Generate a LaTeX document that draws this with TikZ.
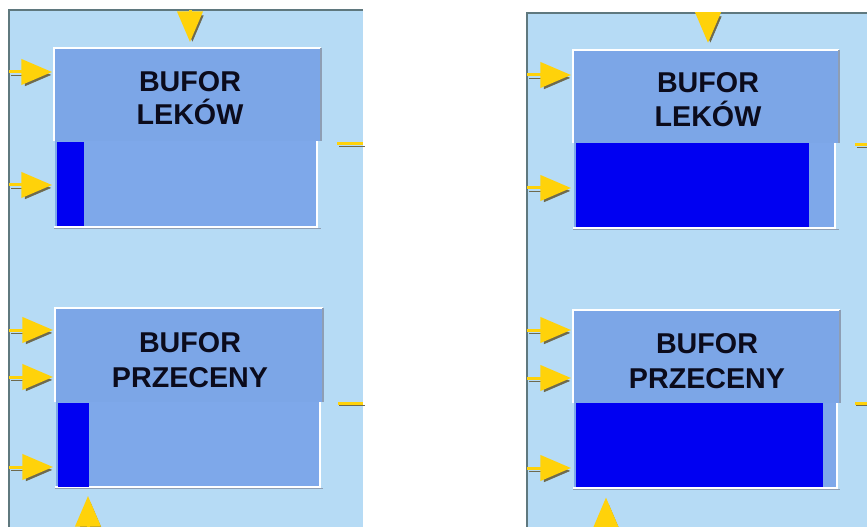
\documentclass[tikz,border=0pt]{standalone}
\usepackage{fontspec}
\setmainfont{Liberation Sans}
\usetikzlibrary{arrows.meta}

\definecolor{panelblue}{HTML}{B6DBF5}
\definecolor{panelrim}{HTML}{5F787E}
\definecolor{hdrblue}{HTML}{7CA6E7}
\definecolor{tankblue}{HTML}{7EA8EA}
\definecolor{levelblue}{HTML}{0000F2}
\definecolor{titleink}{HTML}{0B0B1C}
\definecolor{feedyellow}{HTML}{FFD20A}
\definecolor{feedshadow}{HTML}{6E6A4E}
\definecolor{rimgray}{HTML}{8E9EB4}

\tikzset{
  feed/.style={draw=feedyellow, line width=2.25pt, -{Triangle[length=23pt,width=19pt]},
    preaction={draw=feedshadow, transform canvas={xshift=1.8pt,yshift=-2.2pt}}},
  stub/.style={draw=feedyellow, line width=2.25pt,
    preaction={draw=feedshadow, transform canvas={xshift=1.2pt,yshift=-1.5pt}}},
  title/.style={font=\fontsize{21.5}{24}\selectfont\bfseries, text=titleink, inner sep=0pt, anchor=base},
  bufbox/.style={inner sep=0pt, outer sep=0pt, minimum width=200.25pt, minimum height=135pt},
  edgelight/.style={draw=white, line width=1pt},
  edgedark/.style={draw=rimgray, line width=1pt},
}

\begin{document}
\begin{tikzpicture}[x=0.75pt,y=0.75pt,yscale=-1,xscale=1]
\useasboundingbox (0,0) rectangle (867,527);
\fill[white] (0,0) rectangle (867,527);

%Shape: Rectangle (left panel)
\fill[panelblue] (9,10) rectangle (363,527);
\draw[panelrim, line width=1pt] (9,527) -- (9,10) -- (363,10);
%Shape: Rectangle (right panel)
\fill[panelblue] (527,13) rectangle (867,527);
\draw[panelrim, line width=1pt] (527,527) -- (527,13) -- (867,13);

% ---------- left panel, BUFOR LEKÓW ----------
\node[bufbox] (lekA) at (187.5,138) {};
\fill[hdrblue] (54,48) rectangle (321,141);
\draw[edgelight] (54,141) -- (54,48) -- (321,48);
\draw[edgedark] (321,48) -- (321,141);
\fill[tankblue] (55,141) rectangle (317,227);
\draw[edgelight] (317,141) -- (317,227) -- (54,227);
\draw[edgedark] (54,228.5) -- (321,228.5);
\fill[levelblue] (57,142) rectangle (84,226);
% Text Node
\node[title] (lekA1) at (190,92) {BUFOR};
\node[title] (lekA2) at (190,125) {LEKÓW};

% ---------- left panel, BUFOR PRZECENY ----------
\node[bufbox, minimum width=201pt] (przA) at (189,398) {};
\fill[hdrblue] (55,308) rectangle (323,402);
\draw[edgelight] (55,402) -- (55,308) -- (323,308);
\draw[edgedark] (323,308) -- (323,402);
\fill[tankblue] (56,402) rectangle (320,487);
\draw[edgelight] (320,402) -- (320,487) -- (55,487);
\draw[edgedark] (55,488.5) -- (323,488.5);
\fill[levelblue] (58,403) rectangle (89,487);
% Text Node
\node[title] (przA1) at (190,352) {BUFOR};
\node[title] (przA2) at (190,387) {PRZECENY};

% ---------- right panel, BUFOR LEKÓW ----------
\node[bufbox, minimum width=199.5pt] (lekB) at (706,139.5) {};
\fill[hdrblue] (573,50) rectangle (839,143);
\draw[edgelight] (573,143) -- (573,50) -- (839,50);
\draw[edgedark] (839,50) -- (839,143);
\fill[tankblue] (574,143) rectangle (835,228);
\draw[edgelight] (835,143) -- (835,228) -- (573,228);
\draw[edgedark] (573,229.5) -- (839,229.5);
\fill[levelblue] (576,143) rectangle (809,227);
% Text Node
\node[title] (lekB1) at (708,93) {BUFOR};
\node[title] (lekB2) at (708,127) {LEKÓW};

% ---------- right panel, BUFOR PRZECENY ----------
\node[bufbox, minimum width=200.25pt] (przB) at (706.5,399.5) {};
\fill[hdrblue] (573,310) rectangle (840,403);
\draw[edgelight] (573,403) -- (573,310) -- (840,310);
\draw[edgedark] (840,310) -- (840,403);
\fill[tankblue] (574,403) rectangle (837,488);
\draw[edgelight] (837,403) -- (837,488) -- (573,488);
\draw[edgedark] (573,489.5) -- (840,489.5);
\fill[levelblue] (576,403) rectangle (823,487);
% Text Node
\node[title] (przB1) at (707,353) {BUFOR};
\node[title] (przB2) at (707,388) {PRZECENY};

%Straight Lines (feeds, left panel)
\coordinate (inA1) at (9,72);
\coordinate (inA2) at (9,185);
\coordinate (inA3) at (190,10);
\coordinate (outA1) at (363,144);
\draw[feed, shorten >=1.5pt] (inA1) -- (inA1 -| lekA.west);
\draw[feed, shorten >=1.5pt] (inA2) -- (inA2 -| lekA.west);
\draw[feed, shorten >=4.5pt] (inA3) -- (inA3 |- lekA.north);
\draw[stub] (outA1) -- ([xshift=12pt]outA1 -| lekA.east);

\coordinate (inA4) at (9,330);
\coordinate (inA5) at (9,377);
\coordinate (inA6) at (9,467);
\coordinate (inA7) at (88,527);
\coordinate (outA2) at (363,403);
\draw[feed, shorten >=1.5pt] (inA4) -- (inA4 -| przA.west);
\draw[feed, shorten >=1.5pt] (inA5) -- (inA5 -| przA.west);
\draw[feed, shorten >=1.5pt] (inA6) -- (inA6 -| przA.west);
\draw[feed, shorten >=6pt] (inA7) -- (inA7 |- przA.south);
\draw[stub] (outA2) -- ([xshift=11pt]outA2 -| przA.east);

%Straight Lines (feeds, right panel)
\coordinate (inB1) at (527,75);
\coordinate (inB2) at (527,188);
\coordinate (inB3) at (708,13);
\coordinate (outB1) at (867,145);
\draw[feed, shorten >=1.5pt] (inB1) -- (inB1 -| lekB.west);
\draw[feed, shorten >=1.5pt] (inB2) -- (inB2 -| lekB.west);
\draw[feed, shorten >=5pt] (inB3) -- (inB3 |- lekB.north);
\draw[stub] (outB1) -- ([xshift=12pt]outB1 -| lekB.east);

\coordinate (inB4) at (527,330);
\coordinate (inB5) at (527,378);
\coordinate (inB6) at (527,468);
\coordinate (inB7) at (606,527);
\coordinate (outB2) at (867,403);
\draw[feed, shorten >=1.5pt] (inB4) -- (inB4 -| przB.west);
\draw[feed, shorten >=1.5pt] (inB5) -- (inB5 -| przB.west);
\draw[feed, shorten >=1.5pt] (inB6) -- (inB6 -| przB.west);
\draw[feed, shorten >=6pt] (inB7) -- (inB7 |- przB.south);
\draw[stub] (outB2) -- ([xshift=11pt]outB2 -| przB.east);

\end{tikzpicture}
\end{document}
